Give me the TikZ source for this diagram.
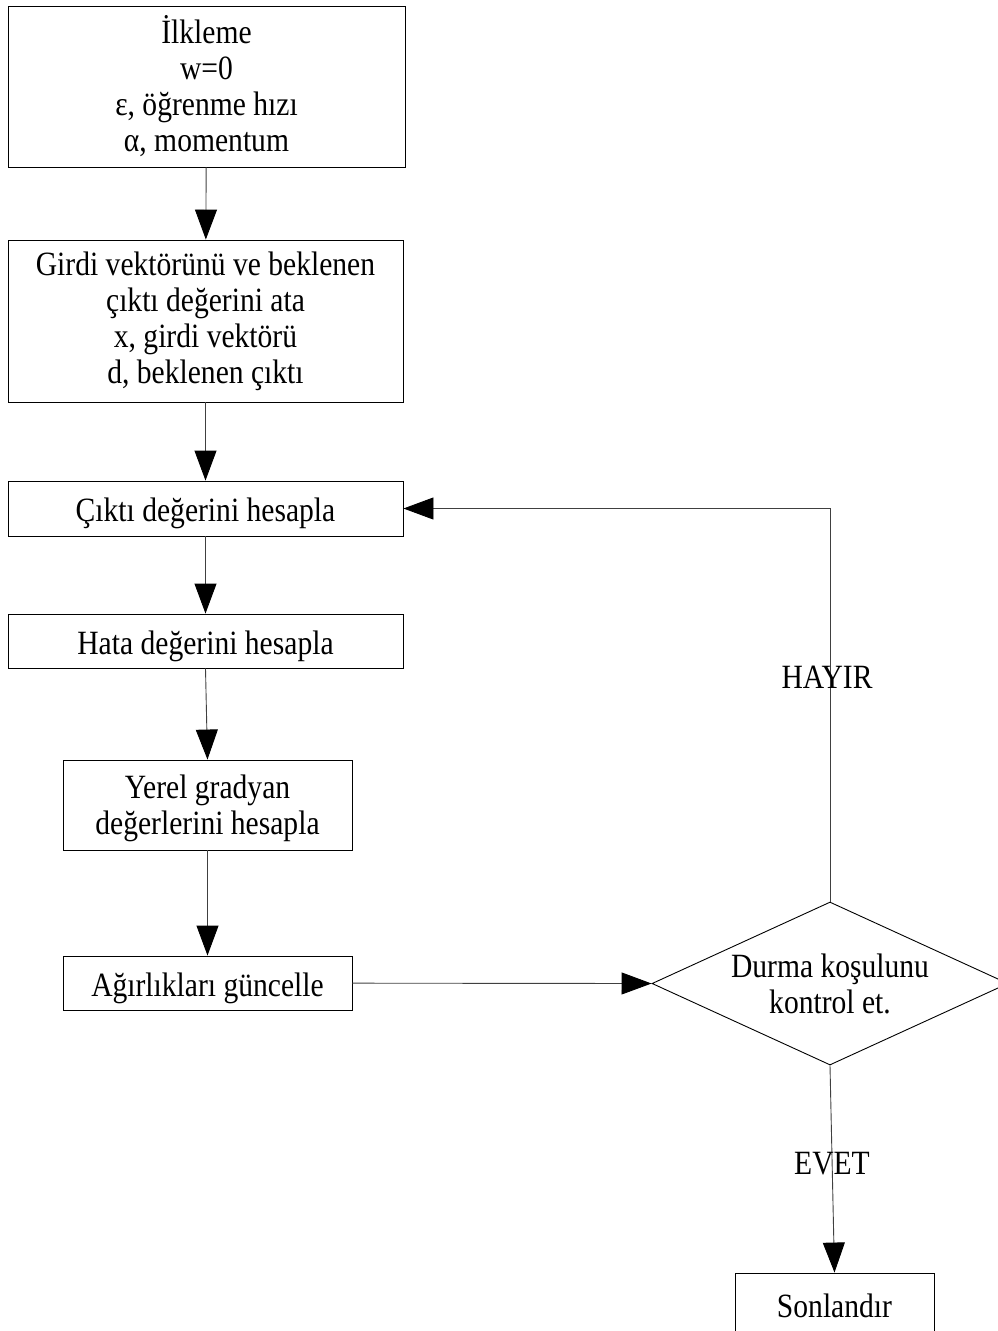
\documentclass[tikz,border=0pt]{standalone}
\usepackage{fontspec}
\setmainfont{Liberation Serif}[FakeStretch=0.87]
\usetikzlibrary{arrows.meta,shapes.geometric}
\begin{document}
\begin{tikzpicture}[x=1pt,y=-1pt,
  every node/.style={font=\fontsize{34}{36}\selectfont, text=black},
  stepbox/.style={draw, line width=0.9pt, rectangle, inner sep=0pt, align=center},
  oneline/.style={text height=26pt, text depth=0pt},
  decision/.style={draw, line width=0.9pt, diamond, aspect=2.18, inner sep=0pt, align=center,
    minimum width=356pt, minimum height=163pt},
  arr/.style={line width=0.9pt, draw=black!75, -{Triangle[length=30pt,width=22pt,color=black,fill=black]}},
  lbl/.style={inner sep=0pt}]
  \useasboundingbox (0,0) rectangle (998,1331);
  \clip (0,0) rectangle (998,1331);

  \node[stepbox, minimum width=397pt, minimum height=161pt] (init) at (206.5,86.5)
    {İlkleme\\w=0\\ε, öğrenme hızı\\α, momentum};
  \node[stepbox, minimum width=395pt, minimum height=162pt] (input) at (205.5,321)
    {Girdi vektörünü ve beklenen\\çıktı değerini ata\\x, girdi vektörü\\d, beklenen çıktı};
  \node[stepbox, oneline, minimum width=395pt, minimum height=55pt] (calc) at (205.5,508.5)
    {Çıktı değerini hesapla};
  \node[stepbox, oneline, minimum width=395pt, minimum height=54pt] (err) at (205.5,641)
    {Hata değerini hesapla};
  \node[stepbox, text depth=0pt, minimum width=289pt, minimum height=90pt] (grad) at (207.5,805)
    {Yerel gradyan\\değerlerini hesapla};
  \node[stepbox, oneline, minimum width=289pt, minimum height=54pt] (upd) at (207.5,983)
    {Ağırlıkları güncelle};
  \node[decision] (check) at (830,983.5)
    {Durma koşulunu\\kontrol et.};
  \node[stepbox, oneline, minimum width=199pt, minimum height=62pt] (stop) at (834.5,1304)
    {Sonlandır};

  \draw[arr] (init) -- (input);
  \draw[arr] (input) -- (calc);
  \draw[arr] (calc) -- (err);
  \draw[arr] (err.south) -- (grad.north);
  \draw[arr] (grad) -- (upd);
  \draw[arr] (upd) -- (check.west);
  \draw[arr] (check.north) |- (calc.east);
  \draw[arr] (check.south) -- (stop.north);

  \node[lbl] (no) at (827,677) {HAYIR};
  \node[lbl] (yes) at (832,1164) {EVET};
\end{tikzpicture}
\end{document}
